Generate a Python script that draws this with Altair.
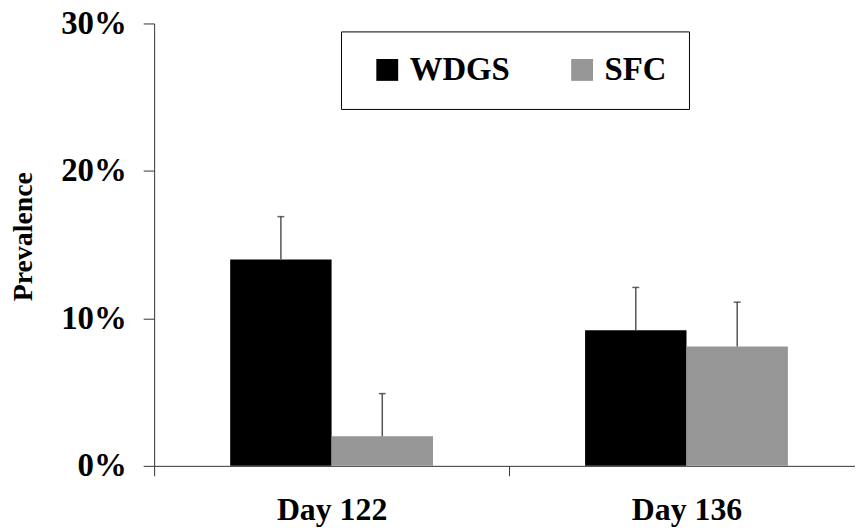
import altair as alt
import pandas as pd

days = ["Day 122", "Day 122", "Day 136", "Day 136"]
groups = ["WDGS", "SFC", "WDGS", "SFC"]
values = [0.140, 0.020, 0.092, 0.081]
errors = [0.029, 0.029, 0.029, 0.030]

day_order = ["Day 122", "Day 136"]
group_order = ["WDGS", "SFC"]
group_colors = ["#000000", "#969696"]

df = pd.DataFrame({"day": days, "group": groups, "value": values, "err": errors})
df["top"] = df["value"] + df["err"]

FONT = "Liberation Serif"

x = alt.X(
    "day:N",
    sort=day_order,
    scale=alt.Scale(domain=day_order, range=[0, 714], paddingInner=0, paddingOuter=0),
    axis=alt.Axis(
        title=None, labelAngle=0, tickBand="extent", tickSize=10, labelPadding=19,
        labelFont=FONT, labelFontSize=32, labelFontWeight="bold", labelColor="#000",
        domainColor="#333", tickColor="#333", domainWidth=1, tickWidth=1,
    ),
)
xo = alt.XOffset(
    "group:N", sort=group_order,
    scale=alt.Scale(domain=group_order, paddingInner=0, paddingOuter=0.75),
)
y_scale = alt.Scale(domain=[0, 0.30], nice=False, zero=True)

base = alt.Chart(df)

bars = base.mark_bar().encode(
    x=x,
    xOffset=xo,
    y=alt.Y(
        "value:Q", scale=y_scale,
        axis=alt.Axis(
            title="Prevalence", values=[0, 0.1, 0.2, 0.3], format=".0%", grid=False,
            tickSize=11, labelPadding=17, labelFontSize=33, labelFont=FONT,
            labelFontWeight="bold", labelColor="#000", titleFontSize=28, titleFont=FONT,
            titleFontWeight="bold", titleColor="#000",
            titleX=-131, titleY=214, titleAngle=270, titleAlign="center", titleBaseline="middle",
            domainColor="#333", tickColor="#333", domainWidth=1, tickWidth=1,
        ),
    ),
    color=alt.Color(
        "group:N", sort=group_order,
        scale=alt.Scale(domain=group_order, range=group_colors),
        legend=alt.Legend(
            title=None, orient="none", legendX=188, legendY=8, direction="horizontal",
            symbolType="square", symbolSize=484, symbolStrokeWidth=0, symbolOffset=8,
            labelFontSize=33, labelFontWeight="bold", labelColor="#000", labelFont=FONT,
            labelOffset=6, columnPadding=48, padding=22,
            strokeColor="#000", fillColor="#fff",
        ),
    ),
)

rules = base.mark_rule(color="#555", strokeWidth=1.5).encode(
    x=x, xOffset=xo, y=alt.Y("value:Q", scale=y_scale), y2="top:Q",
)
caps = base.mark_tick(color="#222", size=7, thickness=1.5).encode(
    x=x, xOffset=xo, y=alt.Y("top:Q", scale=y_scale),
)

chart = (
    alt.layer(bars, rules, caps)
    .properties(
        width=705, height=445,
        autosize=alt.AutoSizeParams(type="none"),
        padding={"left": 147, "top": 14, "right": 0, "bottom": 66},
    )
    .configure(background="#ffffff")
    .configure_view(stroke=None)
)

chart.save("out.html", embed_options={"renderer": "svg", "actions": False})
